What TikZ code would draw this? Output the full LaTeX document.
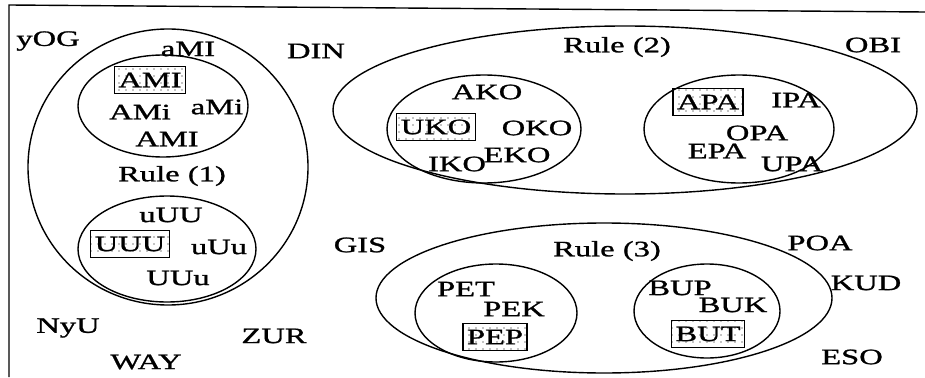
\documentclass[tikz,border=0pt]{standalone}
\usepackage{fontspec}
\setmainfont{Liberation Serif}[FakeStretch=1.48, FakeBold=1.2]
\usetikzlibrary{patterns}

\pgfdeclarepatternformonly{sparsedots}{\pgfqpoint{-1pt}{-1pt}}{\pgfqpoint{1pt}{1pt}}{\pgfqpoint{7pt}{7pt}}{%
  \pgfpathcircle{\pgfqpoint{0pt}{0pt}}{0.7pt}\pgfusepath{fill}}

\tikzset{
  word/.style={font=\fontsize{22}{24}\selectfont, inner sep=0pt},
  seed/.style={word, draw, line width=1.3pt, pattern=sparsedots, inner xsep=4pt, minimum height=27pt},
  set/.style={line width=1.4pt}
}

\begin{document}
\begin{tikzpicture}[x=1pt,y=-1pt]
\useasboundingbox (0,0) rectangle (925,377);

\draw [set] (9,377) -- (9,5) -- (925,12);

\draw [set] (168,167) ellipse [x radius=140pt, y radius=138pt];
\draw [set] (163,106) ellipse [x radius=85pt, y radius=51pt];
\draw [set] (167,249) ellipse [x radius=89pt, y radius=53pt];

\draw [set] (625,110) ellipse [x radius=292pt, y radius=84pt];
\draw [set] (484,129) ellipse [x radius=97pt, y radius=54pt];
\draw [set] (739,129) ellipse [x radius=95pt, y radius=54pt];

\draw [set] (604,298) ellipse [x radius=228pt, y radius=75pt];
\draw [set] (496,313) ellipse [x radius=81pt, y radius=49pt];
\draw [set] (707,311) ellipse [x radius=73pt, y radius=47pt];

% outside the sets
\node [word] (yog)  at (48,41) {yOG};

\node [word] (din)  at (316,51) {DIN};

\node [word] (obi)  at (873,45) {OBI};

\node [word] (gis)  at (360,245) {GIS};

\node [word] (poa)  at (820,243) {POA};

\node [word] (kud)  at (866,283) {KUD};

\node [word] (eso)  at (852,357) {ESO};

\node [word] (nyu)  at (68,328) {NyU};

\node [word] (zur)  at (274,336) {ZUR};

\node [word] (way)  at (146,362) {WAY};

% rule (1)
\node [word] (r1)  at (172,176) {Rule (1)};

\node [word] (ami1)  at (188,49) {aMI};

\node [seed] (ami0)  at (150,80) {AMI};

\node [word] (ami2)  at (140,112) {AMi};

\node [word] (ami3)  at (217,107) {aMi};

\node [word] (ami4)  at (167,139) {AMI};

\node [word] (uuu1)  at (171,215) {uUU};

\node [seed] (uuu0)  at (130,244) {UUU};

\node [word] (uuu2)  at (219,247) {uUu};

\node [word] (uuu3)  at (178,278) {UUu};

% rule (2)
\node [word] (r2)  at (617,47) {Rule (2)};

\node [word] (ako)  at (487,92) {AKO};

\node [seed] (uko)  at (436,127) {UKO};

\node [word] (oko)  at (537,128) {OKO};

\node [word] (iko)  at (457,164) {IKO};

\node [word] (eko)  at (517,155) {EKO};

\node [seed] (apa)  at (708,102) {APA};

\node [word] (ipa)  at (796,100) {IPA};

\node [word] (opa)  at (757,133) {OPA};

\node [word] (epa)  at (717,151) {EPA};

\node [word] (upa)  at (792,164) {UPA};

% rule (3)
\node [word] (r3)  at (607,251) {Rule (3)};

\node [word] (pet)  at (466,289) {PET};

\node [word] (pek)  at (514,309) {PEK};

\node [seed] (pep)  at (495,337) {PEP};

\node [word] (bup)  at (680,288) {BUP};

\node [word] (buk)  at (733,305) {BUK};

\node [seed] (but)  at (708,334) {BUT};

\end{tikzpicture}
\end{document}
